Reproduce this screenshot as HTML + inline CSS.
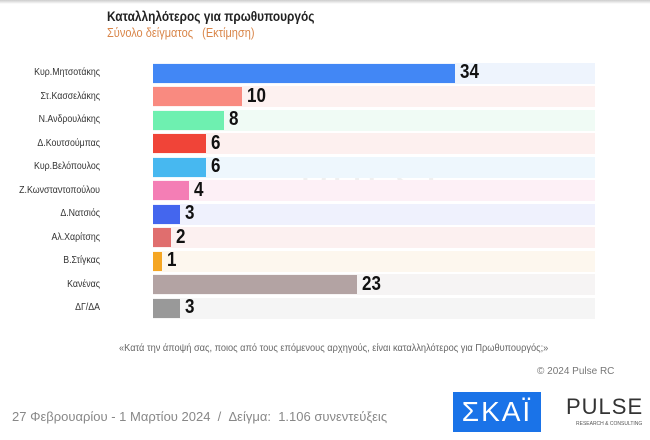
<!DOCTYPE html><html><head><meta charset="utf-8"><style>
body{margin:0;width:650px;height:440px;background:#fff;position:relative;overflow:hidden;font-family:"Liberation Sans","DejaVu Sans",sans-serif}
.a{position:absolute}
.lab{position:absolute;left:0;width:100px;text-align:right;font-size:10px;color:#333;transform:scaleX(.88);transform-origin:right;white-space:nowrap}
.bg{position:absolute;left:153px;width:442px;height:21px}
.bar{position:absolute;left:153px;height:19px}
.v{position:absolute;font-size:20px;font-weight:bold;color:#111;transform:scaleX(.85);transform-origin:left}
</style></head><body>
<div class="a" style="left:0;top:0;width:650px;height:4px;background:linear-gradient(#ccc,#fff)"></div>
<div class="a" style="left:107px;top:9px;font-size:13.5px;font-weight:bold;color:#222;transform:scaleX(.88);transform-origin:left;white-space:nowrap">Καταλληλότερος για πρωθυπουργός</div>
<div class="a" style="left:107px;top:26px;font-size:12.5px;color:#d9864a;transform:scaleX(.88);transform-origin:left;white-space:nowrap">Σύνολο δείγματος &nbsp; (Εκτίμηση)</div>
<div class="a" style="left:300px;top:160px;font-size:42px;color:#f0f0f0;letter-spacing:4px">PULSE</div>
<div id="c"></div>
<div class="a" style="left:119px;top:342px;font-size:10.5px;color:#666;transform:scaleX(.88);transform-origin:left;white-space:nowrap">«Κατά την άποψή σας, ποιος από τους επόμενους αρχηγούς, είναι καταλληλότερος για Πρωθυπουργός;»</div>
<div class="a" style="left:537px;top:366px;font-size:10px;color:#777">© 2024 Pulse RC</div>
<div class="a" style="left:12px;top:409px;font-size:13px;color:#888;white-space:nowrap">27 Φεβρουαρίου - 1 Μαρτίου 2024 &nbsp;/ &nbsp;Δείγμα: &nbsp;1.106 συνεντεύξεις</div>
<div class="a" style="left:453px;top:392px;width:88px;height:40px;background:#1a73e8;color:#fff;font-size:28px;text-align:center;line-height:40px;letter-spacing:2px">ΣΚΑΪ</div>
<div class="a" style="left:566px;top:394px;font-size:22px;color:#333;letter-spacing:1px">PULSE</div>
<div class="a" style="left:576px;top:421px;font-size:5px;color:#555;white-space:nowrap">RESEARCH &amp; CONSULTING</div>
<script>
var d=[["Κυρ.Μητσοτάκης",34,"#4287f5","#eef4fd"],["Στ.Κασσελάκης",10,"#f98a80","#fdf1f0"],["Ν.Ανδρουλάκης",8,"#6ef0b0","#f0fbf5"],["Δ.Κουτσούμπας",6,"#f04438","#fdf0ef"],["Κυρ.Βελόπουλος",6,"#47b8f0","#eef7fd"],["Ζ.Κωνσταντοπούλου",4,"#f47eb5","#fdf0f6"],["Δ.Νατσιός",3,"#4466ee","#eff1fd"],["Αλ.Χαρίτσης",2,"#e06e6e","#fcf0f0"],["Β.Στίγκας",1,"#f5a623","#fdf7ee"],["Κανένας",23,"#b3a3a3","#f6f4f4"],["ΔΓ/ΔΑ",3,"#999999","#f5f5f5"]];
var h="";d.forEach(function(r,i){var y=73+i*23.5;var w=r[1]*8.88;
h+='<div class="bg" style="top:'+(y-10.5)+'px;background:'+r[3]+'"></div><div class="bar" style="top:'+(y-9.5)+'px;width:'+w+'px;background:'+r[2]+'"></div><div class="lab" style="top:'+(y-6)+'px">'+r[0]+'</div><div class="v" style="left:'+(153+w+5)+'px;top:'+(y-12)+'px">'+r[1]+'</div>';});
document.getElementById("c").innerHTML=h;
</script></body></html>
